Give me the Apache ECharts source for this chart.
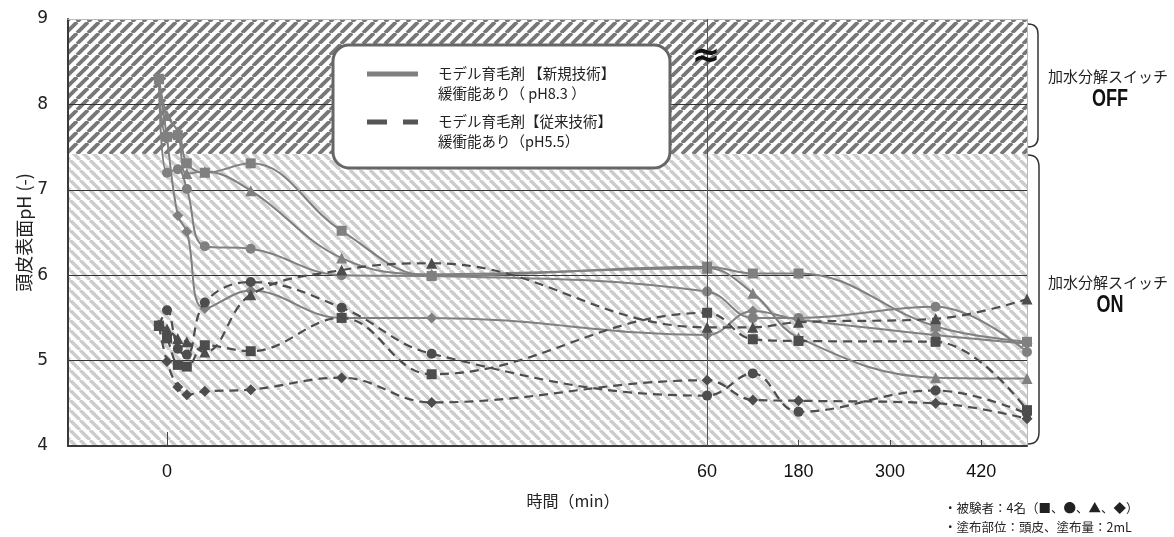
<!DOCTYPE html>
<html><head><meta charset="utf-8">
<script src="https://cdn.jsdelivr.net/npm/echarts@6/dist/echarts.min.js"></script>
<style>html,body{margin:0;padding:0;background:#fff}#c{width:1174px;height:537px}</style>
</head><body><div id="c"></div>
<script>
// ---- data ----
const timesMin = [-0.9, 0, 1.2, 2.2, 4.2, 9.3, 19.4, 29.4, 60, 120, 180, 360, 480];
const newSquare   = [8.30, 7.62, 7.64, 7.31, 7.20, 7.31, 6.52, 5.99, 6.10, 6.02, 6.02, 5.40, 5.22];
const newCircle   = [8.30, 7.20, 7.24, 7.01, 6.34, 6.31, 6.00, 5.99, 5.81, 5.50, 5.50, 5.63, 5.10];
const newTriangle = [8.30, 7.87, 7.68, 7.19, 7.21, 6.99, 6.20, 6.01, 6.08, 5.79, 5.27, 4.80, 4.79];
const newDiamond  = [8.30, 7.60, 6.70, 6.51, 5.61, 5.82, 5.50, 5.50, 5.30, 5.58, 5.48, 5.30, 5.20];
const oldSquare   = [5.41, 5.26, 4.95, 4.93, 5.18, 5.11, 5.50, 4.84, 5.56, 5.25, 5.23, 5.22, 4.42];
const oldCircle   = [5.41, 5.59, 5.14, 5.07, 5.68, 5.92, 5.62, 5.08, 4.59, 4.85, 4.40, 4.65, 4.38];
const oldTriangle = [5.41, 5.37, 5.26, 5.22, 5.10, 5.77, 6.06, 6.14, 5.39, 5.39, 5.45, 5.49, 5.72];
const oldDiamond  = [5.41, 4.99, 4.69, 4.60, 4.64, 4.66, 4.80, 4.51, 4.77, 4.54, 4.53, 4.50, 4.32];
const xTickLabels = [0, 60, 180, 300, 420];
const xBreakAt = 60;           // axis is compressed after 60 min
const xMinMin = -11, xMaxMin = 480;
const yMin = 4, yMax = 9, yStep = 1;
const switchBoundaryPH = 7.42; // hydrolysis switch OFF above / ON below

// ---- broken time axis ----
const K = 0.7619 / 9.005;
function toAxis(t){ return t <= xBreakAt ? t : xBreakAt + (t - xBreakAt) * K; }
function fromAxis(u){ return u <= xBreakAt ? u : xBreakAt + (u - xBreakAt) / K; }
function pts(arr){ return timesMin.map((t, i) => [toAxis(t), arr[i]]); }

function stripes(color, dir, size, width){
  const c = document.createElement('canvas'); c.width = size; c.height = size;
  const g = c.getContext('2d'); g.fillStyle = '#fff'; g.fillRect(0, 0, size, size);
  g.strokeStyle = color; g.lineWidth = width;
  for (let k = -1; k <= 1; k++) {
    g.beginPath();
    if (dir === '/') { g.moveTo(k*size, size); g.lineTo(k*size + size, 0); }
    else { g.moveTo(k*size, 0); g.lineTo(k*size + size, size); }
    g.stroke();
  }
  return c;
}
const topPat = {image: stripes('#777777', '/', 11, 3.8), repeat: 'repeat'};
const botPat = {image: stripes('#cccccc', '\\', 10, 3.4), repeat: 'repeat'};

const NEW_C = '#808080', OLD_C = '#4d4d4d';
function mk(data, symbol, size, isNew){
  return {
    type: 'line', data: pts(data), smooth: 0.4, symbol: symbol, symbolSize: size,
    showAllSymbol: true, z: isNew ? 4 : 5,
    lineStyle: isNew ? {color: NEW_C, width: 2} : {color: OLD_C, width: 2.2, type: [9, 6]},
    itemStyle: {color: isNew ? NEW_C : OLD_C}, emphasis: {disabled: true}
  };
}
const JP = '"Noto Sans CJK JP", sans-serif';
const NARROW = '"Liberation Sans Narrow", "DejaVu Sans", sans-serif';

function brace(x0, x1, yTop, yBot, r){
  const st = {fill: 'none', stroke: '#333', lineWidth: 1.5};
  return [
    {type: 'bezierCurve', z: 101, shape: {x1: x0, y1: yTop, cpx1: x1, cpy1: yTop, x2: x1, y2: yTop + r}, style: st},
    {type: 'line', z: 101, shape: {x1: x1, y1: yTop + r, x2: x1, y2: yBot - r}, style: st},
    {type: 'bezierCurve', z: 101, shape: {x1: x1, y1: yBot - r, cpx1: x1, cpy1: yBot, x2: x0, y2: yBot}, style: st}
  ];
}

const chart = echarts.init(document.getElementById('c'), null, {renderer: 'canvas'});
chart.setOption({
  animation: false,
  grid: {left: 68, right: 147, top: 19, bottom: 91, show: false},
  xAxis: [
    {type: 'value', min: xMinMin, max: toAxis(xMaxMin), position: 'bottom', z: 3,
     axisLine: {show: true, onZero: false, lineStyle: {color: '#3a3a3a', width: 2}},
     splitLine: {show: false},
     axisTick: {show: true, inside: true, length: 6, customValues: xTickLabels.map(toAxis), lineStyle: {color: '#444'}},
     axisLabel: {customValues: xTickLabels.map(toAxis), formatter: v => String(Math.round(fromAxis(v))),
                 fontFamily: '"Liberation Sans", Arial, sans-serif', fontSize: 18, color: '#111', margin: 17}},
    {type: 'value', min: xMinMin, max: toAxis(xMaxMin), position: 'top', z: 3,
     axisLine: {show: true, onZero: false, lineStyle: {color: '#b8b8b8', width: 1}},
     axisTick: {show: false}, axisLabel: {show: false}, splitLine: {show: false}},
    {type: 'value', min: xMinMin, max: toAxis(xMaxMin), position: 'bottom', z: 3,
     axisLine: {show: false}, axisLabel: {show: false}, splitLine: {show: false},
     axisTick: {show: true, inside: true, length: 14, customValues: [0], lineStyle: {color: '#444'}}}
  ],
  yAxis: [
    {type: 'value', min: yMin, max: yMax, interval: yStep, z: 3,
     axisLine: {show: true, onZero: false, lineStyle: {color: '#3a3a3a', width: 2}},
     axisTick: {show: false},
     splitLine: {show: true, showMinLine: false, showMaxLine: false, lineStyle: {color: '#333333', width: 1}},
     axisLabel: {fontFamily: NARROW, fontSize: 17, color: '#222', margin: 20},
     name: '頭皮表面pH (-)', nameLocation: 'middle', nameGap: 35, nameMoveOverlap: false,
     nameTextStyle: {fontFamily: JP, fontSize: 18, color: '#222'}},
    {type: 'value', min: yMin, max: yMax, position: 'right', z: 3,
     axisLine: {show: true, onZero: false, lineStyle: {color: '#b8b8b8', width: 1}},
     axisTick: {show: false}, axisLabel: {show: false}, splitLine: {show: false}}
  ],
  series: [
    {type: 'line', data: [], z: 1, silent: true,
     markArea: {silent: true, label: {show: false}, data: [
       [{yAxis: switchBoundaryPH, itemStyle: {color: topPat, opacity: 1}}, {yAxis: yMax}],
       [{yAxis: yMin, itemStyle: {color: botPat, opacity: 1}}, {yAxis: switchBoundaryPH}]
     ]}},
    {type: 'line', data: [], z: 3, silent: true,
     markLine: {silent: true, symbol: 'none', label: {show: false},
       lineStyle: {color: '#555', width: 1, type: 'solid'}, data: [{xAxis: toAxis(xBreakAt)}]}},
    mk(newSquare, 'rect', 10, true),
    mk(newCircle, 'circle', 10, true),
    mk(newTriangle, 'triangle', 11, true),
    mk(newDiamond, 'diamond', 11, true),
    mk(oldSquare, 'rect', 10, false),
    mk(oldCircle, 'circle', 10, false),
    mk(oldTriangle, 'triangle', 11, false),
    mk(oldDiamond, 'diamond', 11, false)
  ],
  graphic: [
    {type: 'rect', z: 100, shape: {x: 333, y: 45, width: 337, height: 123, r: 16},
     style: {fill: '#fff', stroke: '#666', lineWidth: 3}},
    {type: 'line', z: 101, shape: {x1: 367, y1: 74, x2: 418, y2: 74}, style: {stroke: NEW_C, lineWidth: 5}},
    {type: 'line', z: 101, shape: {x1: 367, y1: 122, x2: 387, y2: 122}, style: {stroke: '#555', lineWidth: 5}},
    {type: 'line', z: 101, shape: {x1: 403, y1: 122, x2: 418, y2: 122}, style: {stroke: '#555', lineWidth: 5}},
    {type: 'text', z: 101, x: 438, y: 73, style: {text: 'モデル育毛剤 【新規技術】', font: '14.5px ' + JP, fill: '#222', verticalAlign: 'middle'}},
    {type: 'text', z: 101, x: 438, y: 93, style: {text: '緩衝能あり（ pH8.3 ）', font: '14.5px ' + JP, fill: '#222', verticalAlign: 'middle'}},
    {type: 'text', z: 101, x: 438, y: 121, style: {text: 'モデル育毛剤【従来技術】', font: '14.5px ' + JP, fill: '#222', verticalAlign: 'middle'}},
    {type: 'text', z: 101, x: 438, y: 141, style: {text: '緩衝能あり（pH5.5）', font: '14.5px ' + JP, fill: '#222', verticalAlign: 'middle'}},
    {type: 'text', z: 101, x: 706, y: 57, style: {text: '≈', font: 'bold 34px "DejaVu Sans", sans-serif', fill: '#111', align: 'center', verticalAlign: 'middle'}},
    ...brace(1028, 1038, 24, 147, 10),
    ...brace(1028, 1039, 155, 444, 12),
    {type: 'text', z: 101, x: 1108, y: 76, style: {text: '加水分解スイッチ', font: '15px ' + JP, fill: '#222', align: 'center', verticalAlign: 'middle'}},
    {type: 'text', z: 101, x: 1110, y: 99, scaleX: 0.75, style: {text: 'OFF', font: 'bold 24px "Liberation Sans", sans-serif', fill: '#111', align: 'center', verticalAlign: 'middle'}},
    {type: 'text', z: 101, x: 1108, y: 282, style: {text: '加水分解スイッチ', font: '15px ' + JP, fill: '#222', align: 'center', verticalAlign: 'middle'}},
    {type: 'text', z: 101, x: 1110, y: 305, scaleX: 0.75, style: {text: 'ON', font: 'bold 24px "Liberation Sans", sans-serif', fill: '#111', align: 'center', verticalAlign: 'middle'}},
    {type: 'text', z: 101, x: 573, y: 501, style: {text: '時間（min）', font: '16px ' + JP, fill: '#222', align: 'center', verticalAlign: 'middle'}},
    {type: 'text', z: 101, x: 944, y: 508, style: {text: '・被験者：4名（■、●、▲、◆）', font: '12.5px ' + JP, fill: '#222', verticalAlign: 'middle'}},
    {type: 'text', z: 101, x: 944, y: 527, style: {text: '・塗布部位：頭皮、塗布量：2mL', font: '12.5px ' + JP, fill: '#222', verticalAlign: 'middle'}}
  ]
});
</script></body></html>
